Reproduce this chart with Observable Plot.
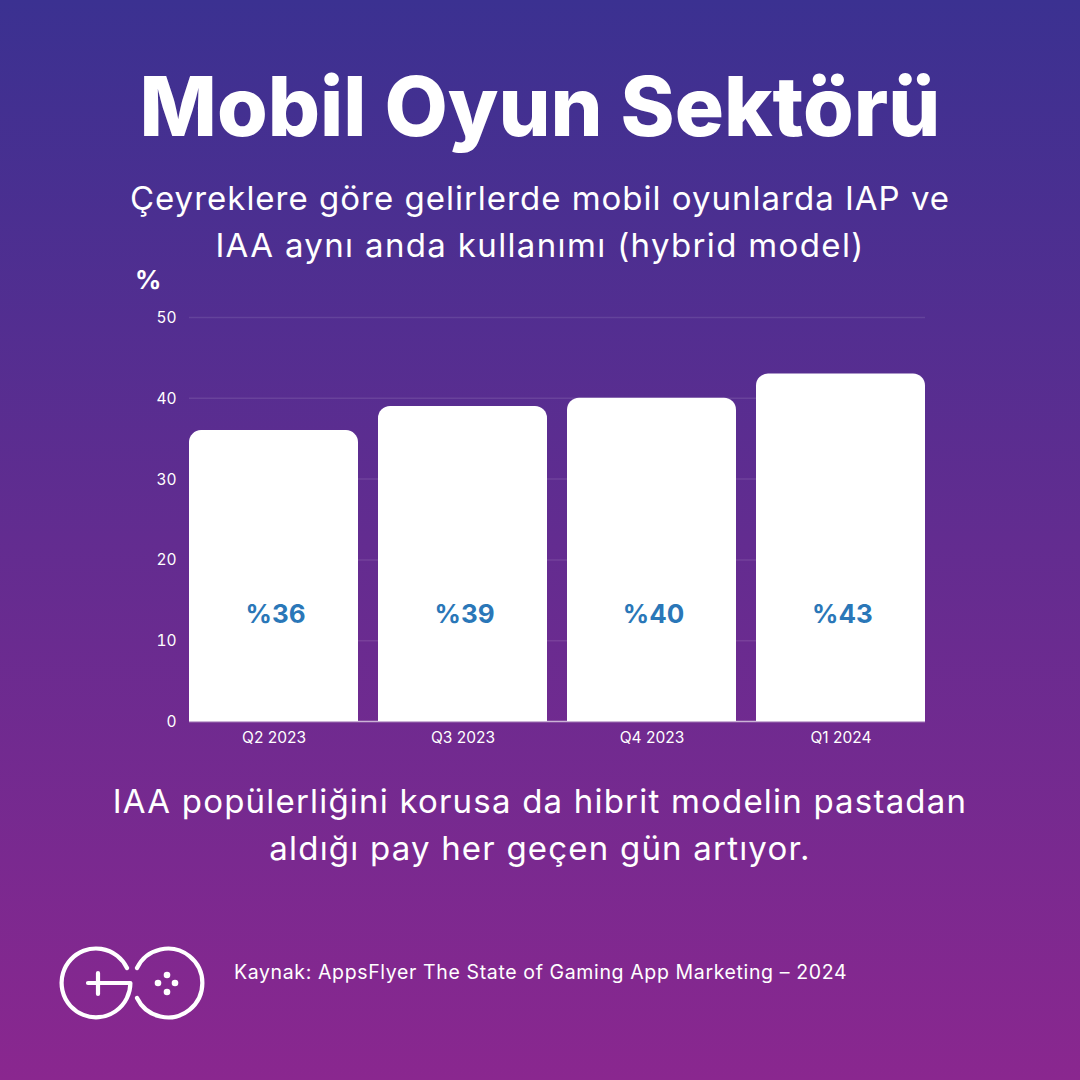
<!DOCTYPE html>
<html lang="tr"><head><meta charset="utf-8">
<script src="https://cdn.jsdelivr.net/npm/d3@7"></script>
<script src="https://cdn.jsdelivr.net/npm/@observablehq/plot@0.6"></script>
<style>
html,body{margin:0;padding:0;width:1080px;height:1080px;overflow:hidden}
body{position:relative;background:linear-gradient(180deg,#3b3191 0%,#8a278f 100%);font-family:Inter,sans-serif;color:#fff}
.t{position:absolute;left:0;width:1080px;text-align:center;white-space:nowrap}
#title{top:57px;font-size:82px;line-height:100px;font-weight:800}
.sub{font-size:33px;line-height:46px;font-weight:400}
#chart{position:absolute;left:0;top:0}
#unit{position:absolute;left:135px;top:265px;font-size:26px;line-height:30px;font-weight:700}
#src{position:absolute;left:234px;top:960px;font-size:19.5px;line-height:24px;letter-spacing:.63px;white-space:nowrap}
#logo{position:absolute;left:55px;top:942px;overflow:visible}
</style></head><body>
<div id="chart"></div>
<div class="t" id="title">Mobil Oyun Sektörü</div>
<div class="t sub" style="top:175px;letter-spacing:1px">Çeyreklere göre gelirlerde mobil oyunlarda IAP ve</div>
<div class="t sub" style="top:222px;letter-spacing:1.35px">IAA aynı anda kullanımı (hybrid model)</div>
<div id="unit">%</div>
<div class="t sub" style="top:778px;letter-spacing:1.2px">IAA popülerliğini korusa da hibrit modelin pastadan</div>
<div class="t sub" style="top:825px;letter-spacing:1.2px">aldığı pay her geçen gün artıyor.</div>
<svg id="logo" width="155" height="82" viewBox="0 0 155 82" fill="none" stroke="#fff" stroke-width="4.2" stroke-linecap="round" stroke-linejoin="round">
<path d="M72 26 A34.4 34.4 0 1 0 75.4 41 L33 41 M43 31 L43 52"/>
<path d="M82 26 A34.4 34.4 0 1 1 82 56"/>
<g fill="#fff" stroke="none"><circle cx="112" cy="33" r="3.3"/><circle cx="112" cy="50" r="3.3"/><circle cx="103" cy="41" r="3.3"/><circle cx="120" cy="41" r="3.3"/></g>
</svg>
<div id="src">Kaynak: AppsFlyer The State of Gaming App Marketing – 2024</div>
<script>
const quarters = ["Q2 2023","Q3 2023","Q4 2023","Q1 2024"];
const shares = [36,39,40,43];
const labels = ["%36","%39","%40","%43"];
const yTicks = [0,10,20,30,40,50];
const labelLevel = 13.2;
const rows = quarters.map((q,i)=>({q,v:shares[i],l:labels[i]}));
const plot = Plot.plot({
  width:1080,height:1080,marginLeft:189,marginRight:155,marginTop:317,marginBottom:359,
  style:{background:"transparent",color:"#fff",fontFamily:"Inter,sans-serif",fontSize:"15.5px"},
  x:{domain:quarters,paddingInner:0.106,paddingOuter:0,label:null},
  y:{domain:[0,50],label:null},
  marks:[
    Plot.gridY(yTicks,{stroke:"#fff",strokeOpacity:0.1,strokeWidth:1.5}),
    Plot.barY(rows,{x:"q",y:"v",fill:"#fff",rx1y1:12,rx2y1:12}),
    Plot.ruleY([0],{stroke:"#fff",strokeOpacity:0.6,strokeWidth:1.5}),
    Plot.axisY(yTicks,{tickSize:0,tickPadding:13,fill:"#fff",label:null,fontSize:15.5,dy:0.5}),
    Plot.axisX(quarters,{tickSize:0,tickPadding:10,fill:"#fff",label:null,fontSize:15.5,letterSpacing:0.3}),
    Plot.text(rows,{x:"q",y:()=>labelLevel,text:"l",fill:"#2a77b8",fontSize:26,fontWeight:700,dx:1.5})
  ]
});
document.getElementById("chart").append(plot);
</script>
</body></html>
